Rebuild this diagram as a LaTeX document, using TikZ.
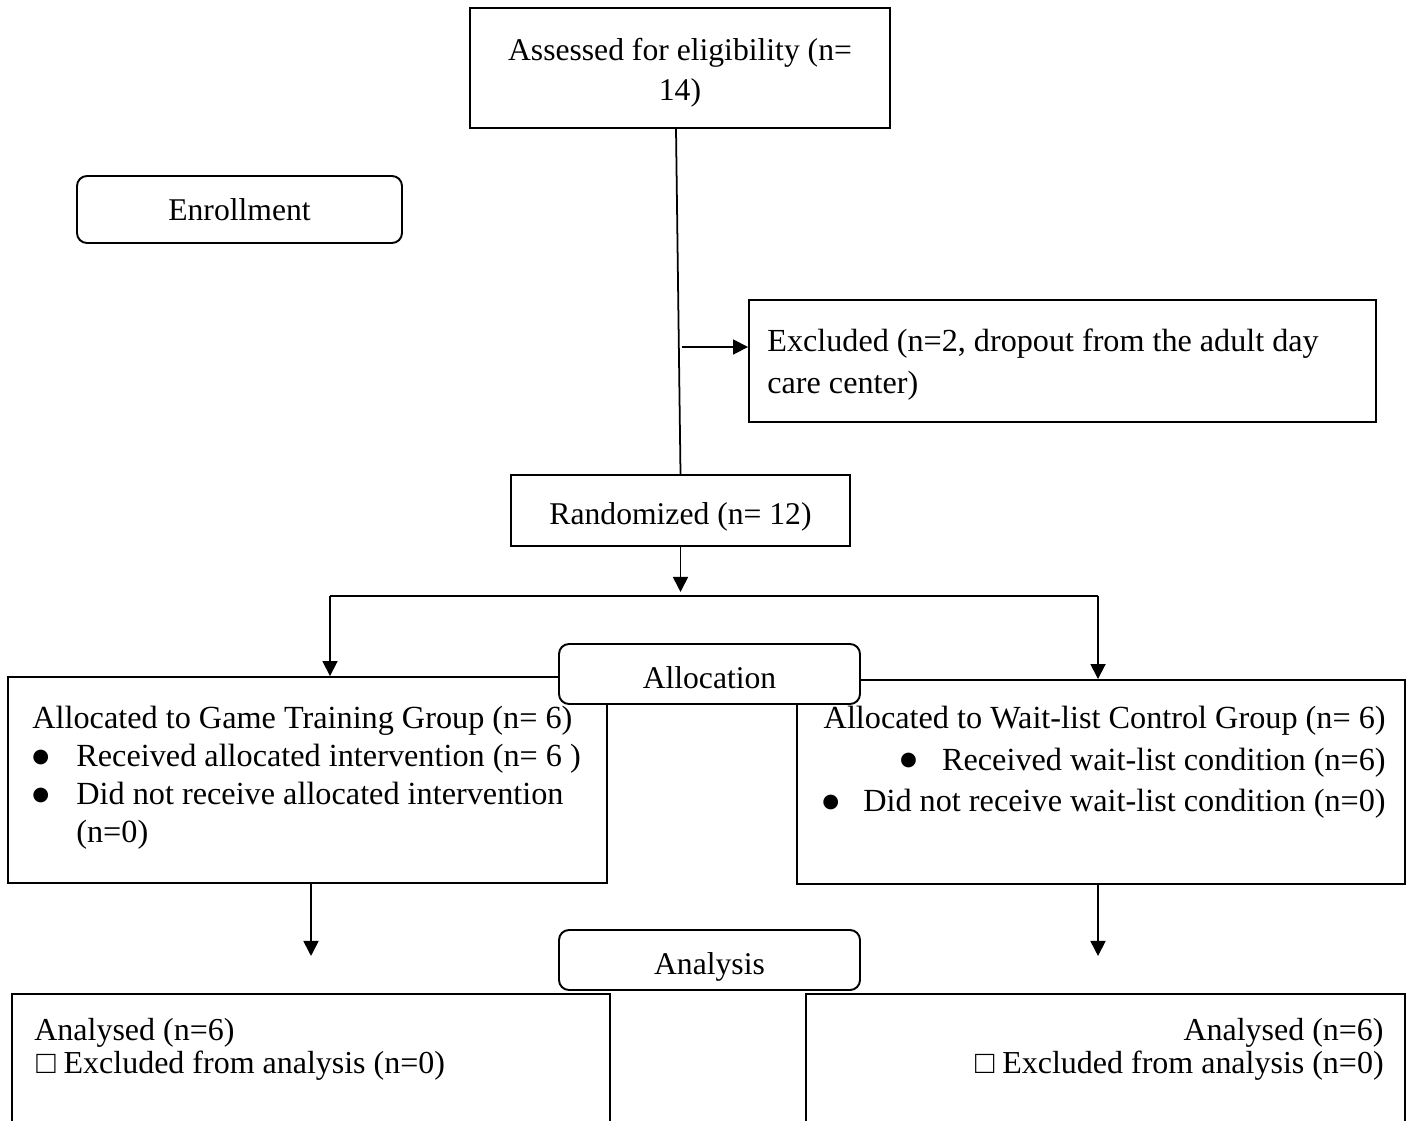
\documentclass[tikz,border=0pt]{standalone}
\usepackage{fontspec}
\setmainfont{Liberation Serif}
\newfontfamily\symfont{DejaVu Sans}
\newcommand\bul{\raisebox{2.5pt}{\symfont\fontsize{11}{11}\selectfont ●}}
\usetikzlibrary{arrows.meta,positioning}

\begin{document}
\begin{tikzpicture}[
  every node/.style={font=\fontsize{18}{22.8}\selectfont},
  box/.style={draw,line width=1.1pt,fill=white,inner sep=0pt},
  txt/.style={inner sep=0pt},
  raised/.style={text height=16.4pt,text depth=0pt},
  stage/.style={box,raised,rounded corners=0.2cm,minimum width=6.02cm,minimum height=1.2cm},
  arr/.style={line width=1pt,-{Triangle[length=0.3cm,width=0.3cm]}}
]
\useasboundingbox (0,0) rectangle (28.24,-22.4);
\clip (0,0) rectangle (28.24,-22.4);

% enrollment
\node[box,minimum width=8.4cm,minimum height=2.4cm] (assess) at (13.6,-1.36) {};
\node[txt,align=center] (assess-t) at ([yshift=-0.1cm]assess.center) {Assessed for eligibility (n=\\14)};
\node[box,rounded corners=0.2cm,minimum width=6.5cm,minimum height=1.34cm] (enroll) at (4.79,-4.19) {Enrollment};
\node[box,minimum width=12.54cm,minimum height=2.44cm] (excl) at (21.25,-7.22) {};
\node[txt,anchor=west,align=left,font=\fontsize{18.3}{23.9}\selectfont] (excl-t) at ([xshift=0.38cm,yshift=-0.08cm]excl.west) {Excluded (n=2, dropout from the adult day\\care center)};
\node[box,raised,minimum width=6.78cm,minimum height=1.42cm] (rand) at (13.61,-10.21) {Randomized (n= 12)};

\draw[line width=1pt] ([xshift=-0.08cm]assess.south) -- (rand.north);
\coordinate (exa) at (13.64,-6.94);
\draw[arr] (exa) -- (exa -| excl.west);

% allocation
\coordinate (sl) at (6.6,-11.92);
\coordinate (sr) at (21.96,-11.92);
\draw[arr] (rand.south) -- ++(0,-0.9);
\draw[line width=1pt] (sl) -- (sr);

\node[box,minimum width=11.98cm,minimum height=4.12cm] (gtg) at (6.15,-15.6) {};
\node[txt,anchor=west,align=left,font=\fontsize{18.35}{21.6}\selectfont] (gtg-t) at ([xshift=0.5cm,yshift=0.04cm]gtg.west) {Allocated to Game Training Group (n= 6)\\
\makebox[0.88cm][l]{\bul}Received allocated intervention (n= 6 )\\
\makebox[0.88cm][l]{\bul}Did not receive allocated intervention\\
\hspace*{0.88cm}(n=0)};
\node[box,minimum width=12.16cm,minimum height=4.08cm] (wlc) at (22.02,-15.64) {};
\node[txt,anchor=east,align=right,font=\fontsize{18.35}{23.5}\selectfont] (wlc-t) at ([xshift=-0.4cm,yshift=0.39cm]wlc.east) {Allocated to Wait-list Control Group (n= 6)\\
\makebox[0.84cm][l]{\bul}Received wait-list condition (n=6)\\
\makebox[0.82cm][l]{\bul}Did not receive wait-list condition (n=0)};
\node[stage] (alloc) at (14.19,-13.48) {Allocation};

\draw[arr] (sl) -- (sl |- gtg.north);
\draw[arr] (sr) -- (sr |- wlc.north);

% analysis
\node[box,minimum width=11.96cm,minimum height=3.32cm] (gtga) at (6.22,-21.54) {};
\node[box,minimum width=11.98cm,minimum height=3.32cm] (wlca) at (22.11,-21.54) {};
\node[txt,below right=0.5cm and 0.46cm of gtga.north west,align=left,font=\fontsize{18.2}{18.5}\selectfont] (gtga-t) {Analysed (n=6)\\\hspace*{0.04cm}□ Excluded from analysis (n=0)};
\node[txt,below left=0.5cm and 0.44cm of wlca.north east,align=right,font=\fontsize{18.2}{18.5}\selectfont] (wlca-t) {Analysed (n=6)\\□ Excluded from analysis (n=0)};
\node[stage] (anal) at (14.19,-19.2) {Analysis};

\draw[arr] ([xshift=0.07cm]gtg.south) -- ++(0,-1.44);
\draw[arr] ([xshift=-0.06cm]wlc.south) -- ++(0,-1.42);
\end{tikzpicture}
\end{document}
